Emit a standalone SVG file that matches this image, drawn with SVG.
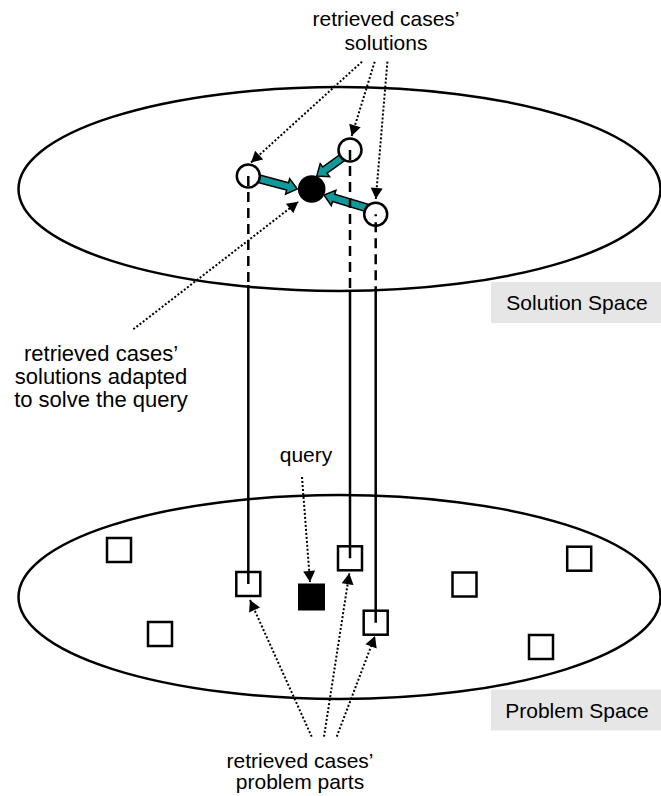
<svg xmlns="http://www.w3.org/2000/svg" width="661" height="796" viewBox="0 0 661 796">
  <style>
    .space { fill: none; stroke: #000; stroke-width: 2.5; }
    .label { font-family: "Liberation Sans", Arial, sans-serif; font-size: 21px; fill: #000; text-anchor: middle; }
    .big { font-size: 22px; }
    .tag { fill: #e6e6e6; }
    .sol { fill: #fff; stroke: #000; stroke-width: 2.5; }
    .prob { fill: #fff; stroke: #000; stroke-width: 2.5; }
    .dash { stroke: #000; stroke-width: 2.5; stroke-dasharray: 10 6; fill: none; }
    .solid { stroke: #000; stroke-width: 2.5; fill: none; }
    .dot { stroke: #000; stroke-width: 2; stroke-dasharray: 2 2; fill: none; marker-end: url(#head); }
    .adapt { fill: #119999; stroke: #000; stroke-width: 1.5; stroke-linejoin: miter; }
  </style>
  <defs>
    <marker id="head" markerUnits="userSpaceOnUse" markerWidth="12" markerHeight="12" viewBox="0 0 11 12" refX="11" refY="6" orient="auto">
      <path d="M0,0 L11,6 L0,12 Z" fill="#000"/>
    </marker>
  </defs>

  <!-- solution space -->
  <g id="solution-space">
    <ellipse class="space" cx="339.5" cy="189" rx="321" ry="102"/>
    <rect class="tag" x="491" y="282" width="172" height="41"/>
    <text class="label" x="577" y="310">Solution Space</text>
  </g>

  <!-- problem space -->
  <g id="problem-space">
    <ellipse class="space" cx="339.5" cy="597" rx="321" ry="102"/>
    <rect class="tag" x="491" y="689.5" width="172" height="41"/>
    <text class="label" x="577" y="717.5">Problem Space</text>
  </g>

  <!-- cases in the problem space -->
  <g id="case-a"><rect class="prob" x="107" y="538" width="24" height="24"/></g>
  <g id="case-b"><rect class="prob" x="148" y="622" width="24" height="24"/></g>
  <g id="case-c"><rect class="prob" x="236.3" y="572" width="24" height="24"/></g>
  <g id="case-d"><rect class="prob" x="338" y="546.3" width="24" height="24"/></g>
  <g id="case-e"><rect class="prob" x="363.7" y="610.7" width="24" height="24"/></g>
  <g id="case-f"><rect class="prob" x="452.5" y="572.5" width="24" height="24"/></g>
  <g id="case-g"><rect class="prob" x="567.2" y="546.7" width="24" height="24"/></g>
  <g id="case-h"><rect class="prob" x="529" y="635" width="24" height="24"/></g>
  <g id="query-node"><rect x="298" y="583.5" width="27" height="27" fill="#000"/></g>

  <!-- adaptation arrows -->
  <g id="adaptation">
    <path class="adapt" transform="translate(256,178) rotate(14.9)" d="M0,-3.8 L32.7,-3.8 L32.7,-8 L42.7,0 L32.7,8 L32.7,3.8 L0,3.8 Z"/>
    <path class="adapt" transform="translate(346,155) rotate(144.4)" d="M0,-3.8 L26,-3.8 L26,-8 L36,0 L26,8 L26,3.8 L0,3.8 Z"/>
    <path class="adapt" transform="translate(367,208) rotate(-163.2)" d="M0,-3.8 L34.9,-3.8 L34.9,-8 L44.9,0 L34.9,8 L34.9,3.8 L0,3.8 Z"/>
  </g>

  <!-- solutions -->
  <g id="solution-1"><circle class="sol" cx="248.3" cy="176" r="11.5"/></g>
  <g id="solution-2"><circle class="sol" cx="350" cy="150" r="11.5"/></g>
  <g id="solution-3"><circle class="sol" cx="375.7" cy="214.3" r="11.5"/></g>
  <g id="adapted-solution"><circle cx="311.7" cy="189" r="13.8" fill="#000"/></g>

  <!-- connectors -->
  <g id="connectors">
    <!-- case to solution links: dashed inside the solution space, solid below it -->
    <line class="dash" x1="248.3" y1="176" x2="248.3" y2="285"/>
    <line class="solid" x1="248.3" y1="285" x2="248.3" y2="584"/>
    <line class="dash" x1="350" y1="150" x2="350" y2="291"/>
    <line class="solid" x1="350" y1="291" x2="350" y2="558.3"/>
    <line class="dash" x1="375.7" y1="214.3" x2="375.7" y2="290" stroke-dashoffset="8"/>
    <line class="solid" x1="375.7" y1="290" x2="375.7" y2="622.7"/>

    <!-- label pointers -->
    <line class="dot" x1="362" y1="61.7" x2="251" y2="162.5"/>
    <line class="dot" x1="374.7" y1="61.7" x2="351.7" y2="136"/>
    <line class="dot" x1="387.4" y1="61.7" x2="375.8" y2="199"/>
    <line class="dot" x1="133.3" y1="329.3" x2="298.3" y2="201.7"/>
    <line class="dot" x1="302" y1="477" x2="310" y2="582"/>
    <line class="dot" x1="311.7" y1="736.7" x2="250" y2="600"/>
    <line class="dot" x1="324" y1="736.7" x2="349.3" y2="573.3"/>
    <line class="dot" x1="336.7" y1="736.7" x2="375" y2="636"/>
  </g>

  <!-- labels -->
  <g id="label-solutions">
    <text class="label" x="386" y="26">retrieved cases’</text>
    <text class="label" x="386" y="50">solutions</text>
  </g>
  <g id="label-adapted">
    <text class="label big" x="101" y="361">retrieved cases’</text>
    <text class="label big" x="101" y="384">solutions adapted</text>
    <text class="label big" x="101" y="407">to solve the query</text>
  </g>
  <g id="label-query">
    <text class="label" x="306" y="462">query</text>
  </g>
  <g id="label-problems">
    <text class="label" x="300" y="768">retrieved cases’</text>
    <text class="label" x="300" y="789">problem parts</text>
  </g>
</svg>
